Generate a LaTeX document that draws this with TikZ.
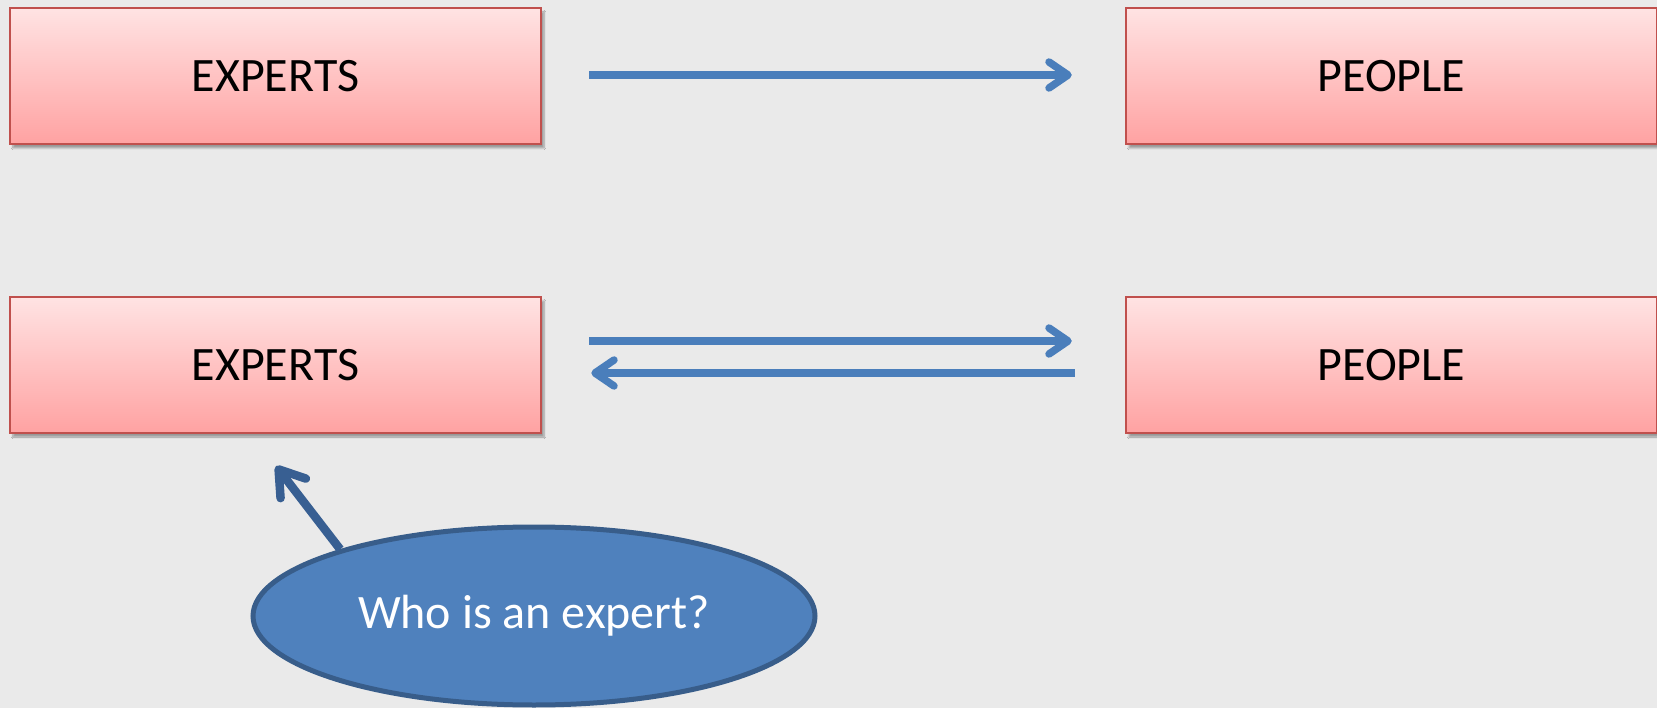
\documentclass[tikz,border=0pt]{standalone}
\usepackage{fontspec}
\setmainfont{Carlito}
\usetikzlibrary{arrows.meta,shapes.geometric,shadows.blur}
\definecolor{bg}{HTML}{EAEAEA}
\definecolor{boxborder}{HTML}{C0504D}
\definecolor{boxtop}{HTML}{FFE3E3}
\definecolor{boxbot}{HTML}{FFA2A2}
\definecolor{arrowblue}{HTML}{4A7EBB}
\definecolor{ellfill}{HTML}{4F81BD}
\definecolor{ellborder}{HTML}{385D8A}
\definecolor{callout}{HTML}{385F92}
\tikzset{
  pinkbox/.style={draw=boxborder, line width=2.5pt, top color=boxtop, bottom color=boxbot,
    minimum width=531pt, minimum height=136pt, inner sep=0pt,
    blur shadow={shadow xshift=3pt, shadow yshift=-4pt, shadow blur steps=6, shadow opacity=35},
    font=\fontsize{48}{57}\selectfont, text=black},
  flow/.style={draw=arrowblue, line width=7.5pt,
    -{Straight Barb[length=19pt, width=26pt, round]}},
  bubble/.style={ellipse, draw=ellborder, line width=5pt, fill=ellfill,
    minimum width=562pt, minimum height=178pt, inner sep=0pt,
    font=\fontsize{48}{57}\selectfont, text=white},
  pointer/.style={draw=callout, line width=8.5pt,
    -{Straight Barb[length=24pt, width=32pt, round]}}
}
\begin{document}
\begin{tikzpicture}[x=1pt,y=-1pt]
\fill[bg] (0,0) rectangle (1657,708);
\path[use as bounding box] (0,0) rectangle (1657,708);
\node[pinkbox] (e1) at (275.5,76) {EXPERTS};
\node[pinkbox] (p1) at (1391.5,76) {PEOPLE};
\node[pinkbox] (e2) at (275.5,365) {EXPERTS};
\node[pinkbox] (p2) at (1391.5,365) {PEOPLE};
\node[bubble] (q) at (534,616) {Who is an expert?};
\coordinate (tip) at (276,466);
\draw[flow] ([xshift=47pt,yshift=1pt]e1.east) -- ([xshift=-53pt,yshift=1pt]p1.west);
\draw[flow] ([xshift=47pt,yshift=24pt]e2.east) -- ([xshift=-53pt,yshift=24pt]p2.west);
\draw[flow] ([xshift=-50pt,yshift=-8pt]p2.west) -- ([xshift=49pt,yshift=-8pt]e2.east);
\draw[pointer] (q.161) -- (tip);
\end{tikzpicture}
\end{document}
